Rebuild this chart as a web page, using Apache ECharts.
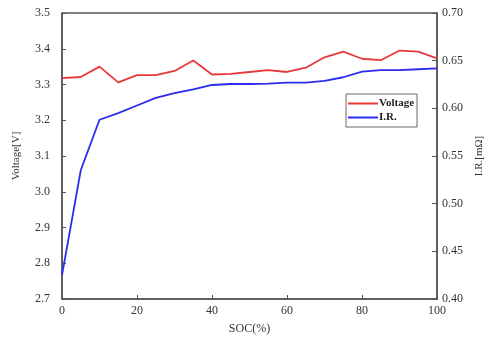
<!DOCTYPE html>
<html><head><meta charset="utf-8">
<script src="https://cdn.jsdelivr.net/npm/echarts@6/dist/echarts.min.js"></script>
<style>html,body{margin:0;padding:0;background:#fff}#c{width:493px;height:340px}</style>
</head><body><div id="c"></div>
<script>
const soc = [0,5,10,15,20,25,30,35,40,45,50,55,60,65,70,75,80,85,90,95,100];
const voltage = [3.318,3.321,3.350,3.306,3.326,3.326,3.338,3.367,3.328,3.330,3.335,3.340,3.335,3.347,3.376,3.392,3.372,3.368,3.395,3.392,3.373];
const ir = [0.425,0.535,0.588,0.595,0.603,0.611,0.616,0.620,0.6245,0.6255,0.6255,0.626,0.627,0.627,0.6287,0.6326,0.6385,0.640,0.640,0.641,0.642];
const xTicks = [0,20,40,60,80,100];
const font = '"Liberation Serif", "Times New Roman", serif';
const txt = '#333';
const axisColor = '#555';
const chart = echarts.init(document.getElementById('c'));
chart.setOption({
  animation: false,
  textStyle: {fontFamily: font},
  grid: {left: 62, right: 47, top: 13, bottom: 41, show: true, borderColor: axisColor, borderWidth: 1.5},
  legend: {
    left: 346, top: 94, orient: 'vertical', borderColor: '#666', borderWidth: 1,
    padding: [4, 3, 4, 2], itemWidth: 30, itemHeight: 2, itemGap: 3, icon: 'rect',
    textStyle: {fontFamily: font, fontSize: 11, color: '#222', fontWeight: 'bold', padding: [0,0,0,-4]},
    data: ['Voltage', 'I.R.']
  },
  xAxis: {
    type: 'value', min: 0, max: 100, interval: 20,
    name: 'SOC(%)', nameLocation: 'middle', nameGap: 24,
    nameTextStyle: {fontFamily: font, fontSize: 12, color: txt},
    axisLine: {lineStyle: {color: axisColor, width: 1.5}},
    axisTick: {inside: true, length: 4, lineStyle: {color: axisColor}},
    axisLabel: {fontFamily: font, fontSize: 12, color: txt, margin: 6},
    splitLine: {show: false}
  },
  yAxis: [{
    type: 'value', min: 2.7, max: 3.5, interval: 0.1, position: 'left',
    name: 'Voltage[V]', nameLocation: 'middle', nameGap: 40, nameRotate: 90,
    nameTextStyle: {fontFamily: font, fontSize: 11, color: txt},
    axisLine: {show: true, lineStyle: {color: axisColor, width: 1.5}},
    axisTick: {show: true, inside: true, length: 4, lineStyle: {color: axisColor}},
    axisLabel: {fontFamily: font, fontSize: 12, color: txt, margin: 12, formatter: v => v.toFixed(1)},
    splitLine: {show: false}
  }, {
    type: 'value', min: 0.40, max: 0.70, interval: 0.05, position: 'right',
    name: 'I.R.[mΩ]', nameLocation: 'middle', nameGap: 37, nameRotate: 90,
    nameTextStyle: {fontFamily: font, fontSize: 11, color: txt},
    axisLine: {show: true, lineStyle: {color: axisColor, width: 1.5}},
    axisTick: {show: true, inside: true, length: 5, lineStyle: {color: axisColor}},
    axisLabel: {fontFamily: font, fontSize: 12, color: txt, margin: 5, formatter: v => v.toFixed(2)},
    splitLine: {show: false}
  }],
  series: [{
    name: 'Voltage', type: 'line', yAxisIndex: 0, showSymbol: false, symbol: 'none',
    data: soc.map((s, i) => [s, voltage[i]]),
    lineStyle: {color: '#e8393a', width: 1.8}, itemStyle: {color: '#e8393a'}
  }, {
    name: 'I.R.', type: 'line', yAxisIndex: 1, showSymbol: false, symbol: 'none',
    data: soc.map((s, i) => [s, ir[i]]),
    lineStyle: {color: '#2b2bef', width: 1.8}, itemStyle: {color: '#2b2bef'}
  }]
});
</script></body></html>
